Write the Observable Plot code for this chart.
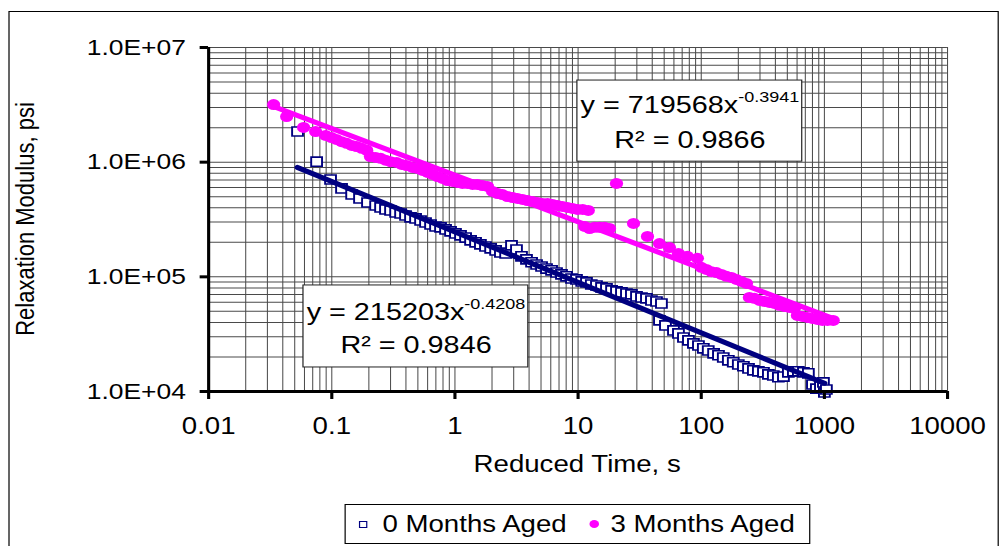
<!DOCTYPE html>
<html><head><meta charset="utf-8">
<script src="https://cdn.jsdelivr.net/npm/d3@7"></script>
<script src="https://cdn.jsdelivr.net/npm/@observablehq/plot@0.6"></script>
<style>
html,body{margin:0;padding:0;background:#fff;overflow:hidden}
#wrap{position:relative;width:1000px;height:546px;overflow:hidden;background:#fff}
#inner{position:absolute;left:0;top:0;width:833px;height:546px;transform:scaleX(1.20048);transform-origin:0 0;font-family:"Liberation Sans",Arial,sans-serif;color:#000}
#chart{position:absolute;left:0;top:0}
#outer{position:absolute;left:6.7px;top:11px;width:823px;height:700px;border:1px solid #000;pointer-events:none}
#legend{position:absolute;left:286.6px;top:504px;width:386px;height:38px;border:1px solid #000;background:#fff;font-size:23px;line-height:38px;white-space:nowrap}
#legend span{position:absolute;top:0}
.ytitle{position:absolute;left:-129px;top:208px;width:300px;height:22px;line-height:22px;font-size:22px;text-align:center;transform:rotate(-90deg);white-space:nowrap}
.xtitle{position:absolute;left:280.8px;top:452.5px;width:400px;height:23px;line-height:23px;font-size:23px;text-align:center;white-space:nowrap}
</style></head><body>
<div id="wrap"><div id="inner">
<div id="chart"></div>
<div class="ytitle" id="ytitle"></div>
<div class="xtitle" id="xtitle"></div>
<div id="legend"></div>
<div id="outer"></div>
</div></div>
<script>
// ---------- data ----------
const seriesNames = ["0 Months Aged", "3 Months Aged"];
const seriesColors = ["#000080", "#FF00FF"];
const xTitle = "Reduced Time, s";
const yTitle = "Relaxation Modulus, psi";

const xTicks = [0.01, 0.1, 1, 10, 100, 1000, 10000];
const xTickLabels = ["0.01", "0.1", "1", "10", "100", "1000", "10000"];
const yTicks = [1e4, 1e5, 1e6, 1e7];
const yTickLabels = ["1.0E+04", "1.0E+05", "1.0E+06", "1.0E+07"];

const months0Time = [0.0527, 0.0753, 0.0977, 0.120, 0.145, 0.168, 0.195, 0.227, 0.249, 0.273, 0.300, 0.330, 0.362, 0.397, 0.436, 0.479, 0.526, 0.577, 0.634, 0.696, 0.764, 0.839, 0.921, 1.01, 1.11, 1.22, 1.34, 1.47, 1.61, 1.77, 1.95, 2.14, 2.34, 2.58, 2.88, 3.16, 3.47, 3.81, 4.19, 4.60, 5.05, 5.54, 6.09, 6.68, 7.33, 8.05, 8.84, 9.70, 10.7, 11.7, 12.8, 14.1, 15.5, 17.0, 18.7, 20.5, 22.5, 24.7, 27.1, 29.8, 32.7, 35.9, 39.4, 43.3, 47.5, 45.8, 51.2, 59.5, 65.3, 71.7, 78.7, 86.4, 94.9, 104, 114, 126, 138, 151, 166, 182, 200, 220, 242, 265, 291, 320, 351, 385, 423, 465, 510, 560, 615, 676, 741, 800, 861, 929, 982, 1000, 1038];
const months0Modulus = [1.85e6, 1.01e6, 7.06e5, 5.90e5, 5.22e5, 4.83e5, 4.45e5, 4.19e5, 4.03e5, 3.87e5, 3.79e5, 3.64e5, 3.57e5, 3.43e5, 3.30e5, 3.23e5, 3.10e5, 2.98e5, 2.86e5, 2.75e5, 2.70e5, 2.59e5, 2.49e5, 2.39e5, 2.30e5, 2.20e5, 2.08e5, 2.00e5, 1.92e5, 1.84e5, 1.77e5, 1.70e5, 1.63e5, 1.60e5, 1.88e5, 1.73e5, 1.51e5, 1.42e5, 1.34e5, 1.28e5, 1.23e5, 1.18e5, 1.14e5, 1.09e5, 1.05e5, 1.01e5, 9.68e4, 9.49e4, 9.12e4, 8.94e4, 8.58e4, 8.41e4, 8.09e4, 7.93e4, 7.61e4, 7.46e4, 7.31e4, 7.16e4, 7.03e4, 6.75e4, 6.61e4, 6.49e4, 6.22e4, 6.10e4, 5.86e4, 4.17e4, 3.77e4, 3.41e4, 3.21e4, 2.96e4, 2.79e4, 2.63e4, 2.52e4, 2.38e4, 2.28e4, 2.15e4, 2.07e4, 1.98e4, 1.87e4, 1.80e4, 1.72e4, 1.66e4, 1.59e4, 1.53e4, 1.50e4, 1.47e4, 1.41e4, 1.38e4, 1.33e4, 1.35e4, 1.47e4, 1.50e4, 1.50e4, 1.47e4, 1.44e4, 1.15e4, 1.06e4, 1.11e4, 1.20e4, 9.8e3, 1.04e4];

const months3Time = [0.0337, 0.0430, 0.0590, 0.0739, 0.0891, 0.0996, 0.109, 0.120, 0.132, 0.145, 0.159, 0.175, 0.192, 0.206, 0.227, 0.249, 0.273, 0.300, 0.336, 0.369, 0.405, 0.453, 0.497, 0.546, 0.600, 0.658, 0.722, 0.793, 0.871, 0.957, 1.05, 1.15, 1.26, 1.39, 1.52, 1.67, 1.84, 2.02, 2.22, 2.43, 2.67, 2.94, 3.22, 3.54, 3.88, 4.26, 4.68, 5.14, 5.65, 6.20, 6.81, 7.47, 8.20, 9.01, 9.89, 10.9, 12.1, 11.3, 12.4, 13.6, 14.9, 16.4, 18.0, 20.5, 28.2, 36.6, 45.8, 55.2, 65.3, 77.3, 93.1, 100, 110, 121, 133, 146, 160, 176, 193, 212, 233, 246, 270, 297, 326, 358, 393, 431, 473, 520, 571, 604, 663, 728, 799, 877, 963, 1060, 1180];
const months3Modulus = [3.18e6, 2.50e6, 2.01e6, 1.85e6, 1.71e6, 1.64e6, 1.58e6, 1.51e6, 1.46e6, 1.40e6, 1.37e6, 1.32e6, 1.27e6, 1.12e6, 1.10e6, 1.08e6, 1.04e6, 1.01e6, 9.94e5, 9.55e5, 9.35e5, 8.99e5, 8.81e5, 8.47e5, 8.13e5, 7.81e5, 7.50e5, 7.21e5, 6.92e5, 6.79e5, 6.65e5, 6.52e5, 6.52e5, 6.39e5, 6.39e5, 6.26e5, 6.14e5, 5.56e5, 5.33e5, 5.22e5, 5.02e5, 4.92e5, 4.83e5, 4.73e5, 4.63e5, 4.54e5, 4.45e5, 4.36e5, 4.36e5, 4.28e5, 4.19e5, 4.11e5, 4.03e5, 3.95e5, 3.87e5, 3.87e5, 3.79e5, 2.75e5, 2.64e5, 2.70e5, 2.70e5, 2.70e5, 2.64e5, 6.52e5, 2.92e5, 2.25e5, 1.95e5, 1.80e5, 1.60e5, 1.51e5, 1.45e5, 1.21e5, 1.16e5, 1.11e5, 1.09e5, 1.05e5, 1.01e5, 9.88e4, 9.49e4, 9.12e4, 8.75e4, 6.61e4, 6.49e4, 6.22e4, 6.10e4, 5.98e4, 5.86e4, 5.64e4, 5.52e4, 5.41e4, 5.31e4, 4.61e4, 4.52e4, 4.43e4, 4.34e4, 4.25e4, 4.17e4, 4.17e4, 4.17e4];

// power trendlines (end points)
const trend0Time = [0.0527, 1000];
const trend0Modulus = [9.0e5, 1.18e4];
const trend3Time = [0.0337, 1180];
const trend3Modulus = [3.06e6, 4.34e4];

// trendline equations
const eqCoef = ["215203", "719568"];
const eqExp = ["-0.4208", "-0.3941"];
const eqR2 = ["0.9846", "0.9866"];

// ---------- layout (data units for the equation boxes) ----------
const eqLayout = [
  {x1: 0.059, x2: 3.95, y1: 1.62e4, y2: 8.41e4, xc: 0.483, yl1: 4.17e4, yl2: 2.15e4},
  {x1: 9.89, x2: 662, y1: 1.01e6, y2: 5.15e6, xc: 80.9, yl1: 2.66e6, yl2: 1.34e6}
];

// ---------- build ----------
const rows0 = months0Time.map((t, i) => ({t, g: months0Modulus[i]}));
const rows3 = months3Time.map((t, i) => ({t, g: months3Modulus[i]}));
const tr0 = trend0Time.map((t, i) => ({t, g: trend0Modulus[i]}));
const tr3 = trend3Time.map((t, i) => ({t, g: trend3Modulus[i]}));
const eqs = eqLayout.map((l, i) => ({...l, line1: "y = " + eqCoef[i] + "x", exp: eqExp[i], line2: "R\u00B2 = " + eqR2[i]}));

const xGrid = [], yGrid = [];
for (let e = -2; e <= 3; e++) for (let m = 1; m <= 9; m++) xGrid.push(m * Math.pow(10, e));
xGrid.push(1e4);
for (let e = 4; e <= 6; e++) for (let m = 1; m <= 9; m++) yGrid.push(m * Math.pow(10, e));
yGrid.push(1e7);

const chart = Plot.plot({
  width: 833, height: 546,
  marginLeft: 173.3, marginRight: 44.2, marginTop: 47, marginBottom: 155,
  x: {type: "log", domain: [0.01, 10000]},
  y: {type: "log", domain: [1e4, 1e7]},
  style: {fontFamily: "'Liberation Sans', Arial, sans-serif", fontSize: "22px", color: "#000", background: "transparent", overflow: "visible"},
  marks: [
    Plot.ruleX(xGrid, {stroke: "#4a4a4a", strokeWidth: 0.85}),
    Plot.ruleY(yGrid, {stroke: "#4a4a4a", strokeWidth: 1}),
    Plot.rect(eqs, {x1: "x1", x2: "x2", y1: "y1", y2: "y2", fill: "white", stroke: "#222", strokeWidth: 1}),
    Plot.text(eqs, {x: "xc", y: "yl1", text: "line1", fontSize: 24, textAnchor: "middle", lineAnchor: "bottom", fill: "#000"}),
    Plot.text(eqs, {x: "xc", y: "yl2", text: "line2", fontSize: 24, textAnchor: "middle", lineAnchor: "bottom", fill: "#000"}),
    Plot.dot(rows0, {x: "t", y: "g", symbol: "square", r: 5.1, stroke: seriesColors[0], fill: "white", strokeWidth: 1.6}),
    Plot.line(tr0, {x: "t", y: "g", stroke: seriesColors[0], strokeWidth: 5, strokeLinecap: "round"}),
    Plot.dot(rows3, {x: "t", y: "g", r: 5.5, fill: seriesColors[1], stroke: "none"}),
    Plot.line(tr3, {x: "t", y: "g", stroke: seriesColors[1], strokeWidth: 5, strokeLinecap: "round"}),
    Plot.ruleX([0.01], {stroke: "#000", strokeWidth: 2.6}),
    Plot.ruleY([1e4], {stroke: "#000", strokeWidth: 3}),
    Plot.axisX(xTicks, {anchor: "bottom", tickSize: 8, strokeWidth: 2.6, tickFormat: () => "", label: null}),
    Plot.axisX(xTicks, {anchor: "bottom", tickSize: 0, tickPadding: 26, fontSize: 23, tickFormat: d => xTickLabels[xTicks.indexOf(d)], label: null}),
    Plot.axisY(yTicks, {anchor: "left", tickSize: 7, strokeWidth: 3, tickFormat: () => "", label: null}),
    Plot.axisY(yTicks, {anchor: "left", tickSize: 0, tickPadding: 19, fontSize: 22, tickFormat: d => yTickLabels[yTicks.indexOf(d)], label: null})
  ]
});
document.getElementById("chart").appendChild(chart);

// superscript exponents on the equations
d3.select(chart).selectAll("text").each(function () {
  const s = this.textContent;
  const e = eqs.find(q => q.line1 === s);
  if (e) {
    d3.select(this).append("tspan").attr("dy", -11).attr("font-size", 15).text(e.exp);
  }
});

document.getElementById("xtitle").textContent = xTitle;
document.getElementById("ytitle").textContent = yTitle;

// legend
const lg = document.getElementById("legend");
const items = [
  {mk: `<span style="left:11.5px;top:15.5px;width:5px;height:5px;border:1.5px solid ${seriesColors[0]};background:#fff"></span>`, left: 31},
  {mk: `<span style="left:203.6px;top:15px;width:8px;height:8px;border-radius:50%;background:${seriesColors[1]}"></span>`, left: 221}
];
items.forEach((it, i) => {
  lg.insertAdjacentHTML("beforeend", it.mk + `<span style="left:${it.left}px">${seriesNames[i]}</span>`);
});
</script>
</body></html>
